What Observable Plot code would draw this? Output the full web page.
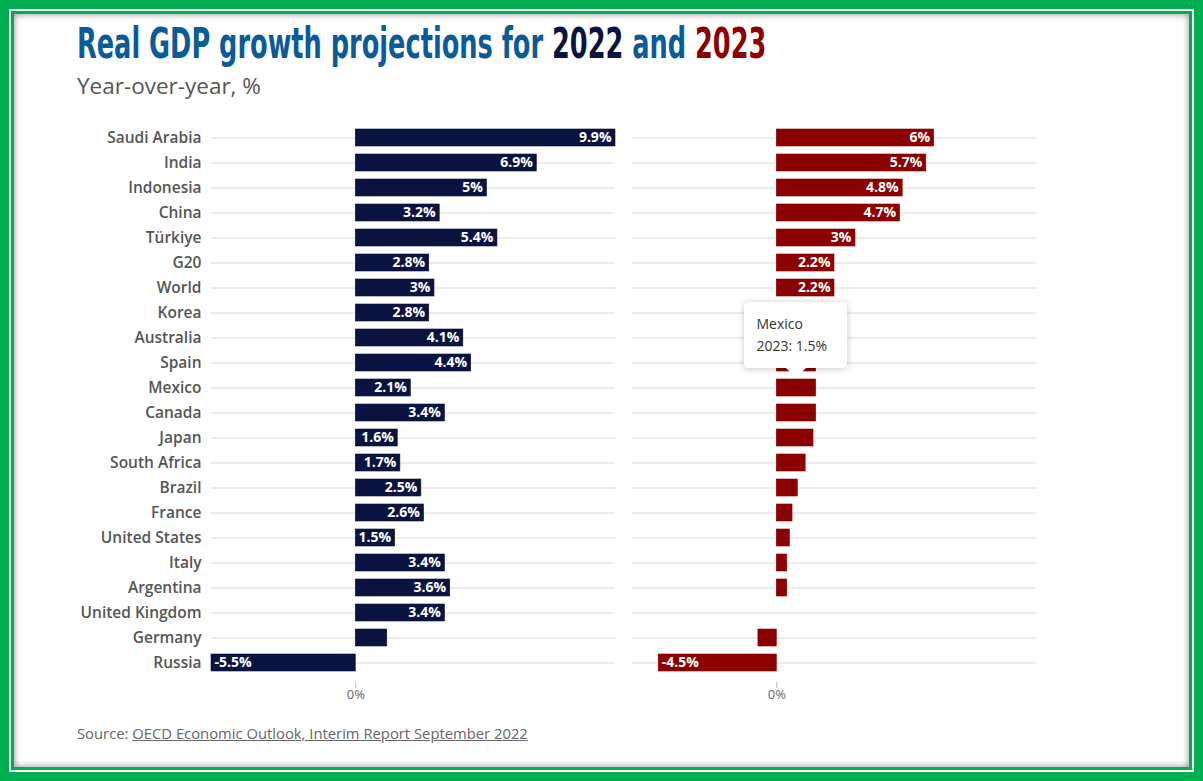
<!DOCTYPE html>
<html>
<head>
<meta charset="utf-8">
<script src="https://cdn.jsdelivr.net/npm/d3@7"></script>
<script src="https://cdn.jsdelivr.net/npm/@observablehq/plot@0.6"></script>
<style>
  html, body { margin: 0; padding: 0; background: #fff; }
  #page { position: relative; width: 1203px; height: 781px; background: #00b050; overflow: hidden; font-family: "Open Sans", "Noto Sans", sans-serif; }
  #ring1 { position: absolute; left: 9px; top: 9px; right: 9px; bottom: 9px; background: #fff; }
  #ring2 { position: absolute; left: 11px; top: 11px; right: 11px; bottom: 11px; background: #00b050; }
  #content { position: absolute; left: 14px; top: 14px; right: 14px; bottom: 14px; background: #fff; box-shadow: inset 0 0 7px rgba(0,0,0,0.45); }
  #title { position: absolute; left: 77px; top: 19px; font-family: "DejaVu Sans", sans-serif; font-weight: 700; font-size: 42px; color: #0b5b97; white-space: nowrap; transform: scaleX(0.61); transform-origin: 0 0; }
  #subtitle { position: absolute; left: 77px; top: 70px; font-size: 22.5px; color: #555; white-space: nowrap; }
  #source { position: absolute; left: 77px; top: 723px; font-size: 14.8px; color: #666; white-space: nowrap; }
  #source span { text-decoration: underline; }
  #chart { position: absolute; left: 0; top: 110px; }
  #chart svg { overflow: visible; }
  #chart g[aria-label="y-axis tick label"] text { font-weight: 600; }
  #tip { position: absolute; width: 79px; height: 44px; padding: 11px 12px; background: #fff; border-radius: 4px; box-shadow: 0 1px 7px rgba(0,0,0,0.22); font-size: 14px; line-height: 22px; color: #333; white-space: nowrap; }
  #tip::after { content: ""; position: absolute; left: 50%; bottom: -10px; margin-left: -10px; border-left: 10px solid transparent; border-right: 10px solid transparent; border-top: 10px solid #fff; }
</style>
</head>
<body>
<div id="page">
  <div id="ring1"></div>
  <div id="ring2"></div>
  <div id="content"></div>
  <div id="title">Real GDP growth projections for <span style="color:#0b1340">2022</span> and <span style="color:#8b0000">2023</span></div>
  <div id="subtitle">Year-over-year, %</div>
  <div id="chart"></div>
  <div id="source">Source: <span>OECD Economic Outlook, Interim Report September 2022</span></div>
</div>
<script>
const countries = ["Saudi Arabia","India","Indonesia","China","Türkiye","G20","World","Korea","Australia","Spain","Mexico","Canada","Japan","South Africa","Brazil","France","United States","Italy","Argentina","United Kingdom","Germany","Russia"];
const growth2022 = [9.9,6.9,5,3.2,5.4,2.8,3,2.8,4.1,4.4,2.1,3.4,1.6,1.7,2.5,2.6,1.5,3.4,3.6,3.4,1.2,-5.5];
const growth2023 = [6,5.7,4.8,4.7,3,2.2,2.2,2.2,2.0,1.5,1.5,1.5,1.4,1.1,0.8,0.6,0.5,0.4,0.4,0.0,-0.7,-4.5];
const years = ["2022","2023"];
const yearColors = ["#0b1340","#8b0000"];
const labelThreshold = {"2022": 1.5, "2023": 2.0};
const tooltipCountry = "Mexico";
const tooltipYear = "2023";
// labels that sit under the tooltip in the reference and are not visible
const coveredLabels = ["Korea|2023", "Australia|2023"];

const data = [];
countries.forEach((c, i) => {
  data.push({country: c, year: "2022", value: growth2022[i]});
  data.push({country: c, year: "2023", value: growth2023[i]});
});
const labeled = data.filter(d => Math.abs(d.value) >= labelThreshold[d.year] && !coveredLabels.includes(`${d.country}|${d.year}`));
const fmt = v => `${v}%`;

const marginLeft = 211, marginRight = 167, marginTop = 10.5, marginBottom = 40;
const plot = Plot.plot({
  width: 1203,
  height: 610,
  marginLeft, marginRight, marginTop, marginBottom,
  style: {fontFamily: '"Open Sans", "Noto Sans", sans-serif', background: "transparent", overflow: "visible"},
  x: {domain: [-5.5, 9.9], axis: null},
  y: {domain: countries, padding: 0.32, label: null, tickSize: 0, tickPadding: 10, axis: "left"},
  fx: {domain: years, paddingInner: 17 / 421, paddingOuter: 0, axis: null},
  color: {domain: years, range: yearColors},
  marks: [
    Plot.ruleY(countries, {y: d => d, stroke: "#e6e6e6", strokeWidth: 1.5}),
    Plot.barX(data, {x: "value", y: "country", fx: "year", fill: "year", stroke: "year", strokeWidth: 0.6}),
    Plot.text(labeled.filter(d => d.value > 0), {x: "value", y: "country", fx: "year", text: d => fmt(d.value), textAnchor: "end", dx: -4, fill: "white", fontWeight: 700, fontSize: 14}),
    Plot.text(labeled.filter(d => d.value < 0), {x: "value", y: "country", fx: "year", text: d => fmt(d.value), textAnchor: "start", dx: 3, fill: "white", fontWeight: 700, fontSize: 14}),
    Plot.axisX({ticks: [0], tickFormat: d => `${d}%`, tickSize: 6, tickPadding: 1, dy: 2, stroke: "#bbb", fill: "#666", fontSize: 13, label: null})
  ]
});
plot.style.fontSize = "15.5px";
plot.querySelectorAll('g[aria-label="y-axis tick label"]').forEach(g => g.setAttribute("fill", "#555"));
document.getElementById("chart").appendChild(plot);

// Tooltip positioned through the plot's own scales
const xs = plot.scale("x"), ys = plot.scale("y"), fxs = plot.scale("fx");
const tv = data.find(d => d.country === tooltipCountry && d.year === tooltipYear).value;
const xCenter = fxs.apply(tooltipYear) + (xs.apply(tv / 2) - xs.range[0]);
const yTop = ys.apply(tooltipCountry);
const tip = document.createElement("div");
tip.id = "tip";
tip.innerHTML = `${tooltipCountry}<br>${tooltipYear}: ${fmt(tv)}`;
tip.style.left = (xCenter - 51.5) + "px";
tip.style.top = (110 + yTop - 1 - 10 - 66) + "px";
document.getElementById("page").appendChild(tip);
</script>
</body>
</html>
